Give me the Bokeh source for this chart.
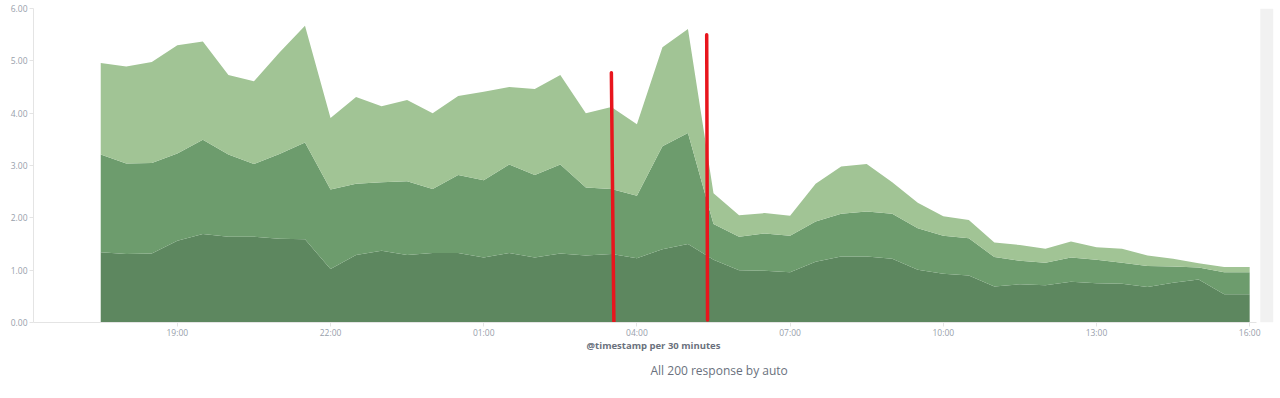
import pandas as pd
from bokeh.plotting import figure
from bokeh.models import (ColumnDataSource, FixedTicker, DatetimeTickFormatter,
                          NumeralTickFormatter, Range1d, Title, BoxAnnotation)
from bokeh.embed import file_html
from bokeh.resources import INLINE

# ---------------- data ----------------
start_time = "2018-01-01 17:30"
bucket = "30min"

low = [1.34, 1.31, 1.32, 1.56, 1.69, 1.64, 1.64, 1.60, 1.59, 1.02, 1.29, 1.37,
       1.29, 1.33, 1.33, 1.24, 1.33, 1.24, 1.32, 1.28, 1.31, 1.23, 1.40, 1.50,
       1.20, 1.00, 0.99, 0.96, 1.16, 1.26, 1.26, 1.22, 1.01, 0.93, 0.90, 0.69,
       0.73, 0.71, 0.78, 0.75, 0.74, 0.68, 0.76, 0.82, 0.54, 0.54]
mid = [1.87, 1.73, 1.73, 1.67, 1.80, 1.57, 1.39, 1.62, 1.85, 1.52, 1.36, 1.31,
       1.41, 1.22, 1.49, 1.48, 1.69, 1.58, 1.70, 1.30, 1.24, 1.19, 1.97, 2.12,
       0.68, 0.64, 0.71, 0.70, 0.77, 0.82, 0.86, 0.86, 0.79, 0.73, 0.71, 0.56,
       0.45, 0.43, 0.46, 0.45, 0.40, 0.40, 0.31, 0.23, 0.42, 0.42]
high = [1.75, 1.85, 1.93, 2.07, 1.88, 1.52, 1.58, 1.94, 2.23, 1.37, 1.66, 1.45,
        1.55, 1.45, 1.51, 1.69, 1.48, 1.64, 1.71, 1.42, 1.57, 1.37, 1.89, 1.99,
        0.59, 0.41, 0.39, 0.38, 0.72, 0.90, 0.91, 0.60, 0.49, 0.37, 0.35, 0.28,
        0.30, 0.27, 0.31, 0.24, 0.27, 0.20, 0.15, 0.08, 0.10, 0.10]

tick_times = ["2018-01-01 19:00", "2018-01-01 22:00", "2018-01-02 01:00",
              "2018-01-02 04:00", "2018-01-02 07:00", "2018-01-02 10:00",
              "2018-01-02 13:00", "2018-01-02 16:00"]
tick_labels = ["19:00", "22:00", "01:00", "04:00", "07:00", "10:00", "13:00", "16:00"]
y_ticks = [0, 1, 2, 3, 4, 5, 6]

# hand-drawn red markers on the screenshot
marker_top_times = ["2018-01-02 03:30", "2018-01-02 05:22"]
marker_bottom_times = ["2018-01-02 03:33", "2018-01-02 05:23"]
marker_tops = [4.77, 5.50]
marker_bottoms = [-0.05, 0.05]

x_axis_title = "@timestamp per 30 minutes"
chart_title = "All 200 response by auto"

colors = ["#5d875f", "#6d9c6d", "#a1c495"]


def ms(s):
    return pd.Timestamp(s).value / 1e6


MIN = 60 * 1000
times = pd.date_range(start_time, periods=len(low), freq=bucket)
source = ColumnDataSource(dict(t=times, low=low, mid=mid, high=high))

t0 = ms(times[0])
t1 = ms(times[-1])
axis_start = t0 - 79 * MIN
axis_end = t1 + 8 * MIN
view_end = t1 + 28 * MIN       # includes the container's scrollbar strip
scroll_start = t1 + 12.5 * MIN

p = figure(width=1280, height=398, x_axis_type="datetime",
           x_range=Range1d(axis_start, view_end), y_range=Range1d(0, 6),
           output_backend="svg", toolbar_location=None,
           min_border_left=33, min_border_right=7, min_border_top=8,
           min_border_bottom=76)
p.outline_line_color = None
p.grid.visible = False
p.background_fill_color = "white"
p.border_fill_color = "white"

# container scrollbar strip at the right
p.add_layout(BoxAnnotation(left=scroll_start, fill_color="#f1f1f1", fill_alpha=1.0,
                           line_color=None, level="underlay"))

p.varea_stack(stackers=["low", "mid", "high"], x="t", color=colors, source=source)

msrc = ColumnDataSource(dict(x0=[ms(s) for s in marker_top_times],
                             x1=[ms(s) for s in marker_bottom_times],
                             y0=marker_tops, y1=marker_bottoms))
p.segment(x0="x0", y0="y0", x1="x1", y1="y1", source=msrc,
          line_color="#e8151d", line_width=3.5, line_cap="round")

axis_color = "#e4e4e4"
label_color = "#98a0ab"

tvals = [ms(s) for s in tick_times]
p.xaxis.ticker = FixedTicker(ticks=tvals)
p.xaxis.formatter = DatetimeTickFormatter(hours="%H:%M", days="%H:%M", hourmin="%H:%M",
                                          minutes="%H:%M", months="%H:%M", years="%H:%M")
p.xaxis.major_label_overrides = {v: l for v, l in zip(tvals, tick_labels)}
p.xaxis.bounds = (axis_start, axis_end)
p.yaxis.ticker = FixedTicker(ticks=y_ticks)
p.yaxis.formatter = NumeralTickFormatter(format="0.00")

for ax in (p.xaxis, p.yaxis):
    ax.axis_line_color = axis_color
    ax.major_tick_line_color = axis_color
    ax.minor_tick_line_color = None
    ax.major_tick_out = 4
    ax.major_tick_in = 0
    ax.major_label_text_font = "Open Sans"
    ax.major_label_text_font_size = "8.5px"
    ax.major_label_text_color = label_color

p.xaxis.major_label_standoff = 0
p.yaxis.major_label_standoff = 2

p.xaxis.axis_label = x_axis_title
p.xaxis.axis_label_text_font = "Open Sans"
p.xaxis.axis_label_text_font_style = "bold"
p.xaxis.axis_label_text_font_size = "9.5px"
p.xaxis.axis_label_text_color = "#6a717d"
p.xaxis.axis_label_standoff = -2

p.add_layout(Title(text=chart_title, align="left", offset=617, standoff=10,
                   text_font="Open Sans", text_font_style="normal",
                   text_font_size="12px", text_color="#6a717d"), "below")

open("out.html", "w").write(file_html(p, INLINE))
